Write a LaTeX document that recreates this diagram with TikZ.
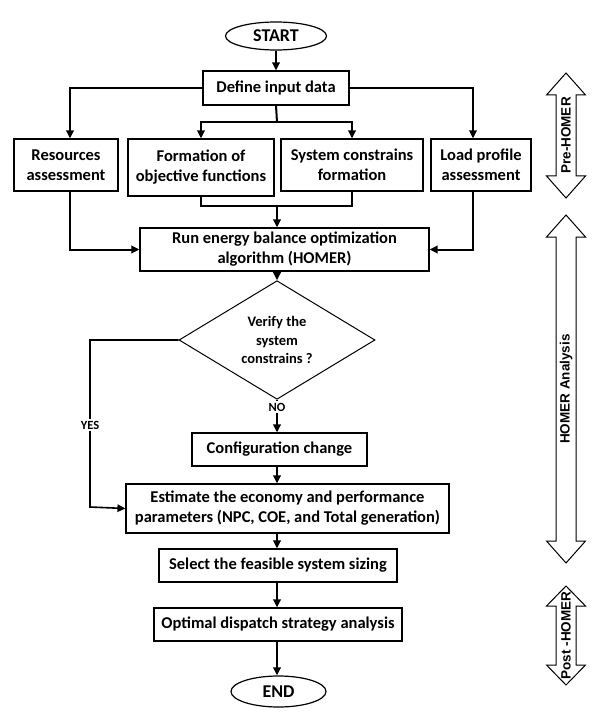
\documentclass[tikz,border=0pt]{standalone}
\usepackage{fontspec}
\setmainfont{Carlito}
\newfontfamily\sidefont{Liberation Sans}
\usetikzlibrary{arrows.meta,shapes.geometric,calc}
\tikzset{
  boxnode/.style={draw, line width=1.2pt, fill=white, align=center, inner sep=0pt,
    font=\fontsize{16.5}{20}\selectfont\bfseries},
  termnode/.style={ellipse, draw, line width=1.2pt, inner sep=0pt,
    font=\fontsize{18}{20}\selectfont\bfseries},
  decnode/.style={diamond, draw, line width=1pt, inner sep=0pt, align=center,
    font=\fontsize{14.5}{18.5}\selectfont\bfseries},
  conn/.style={line width=2pt},
  arr/.style={line width=2pt, -{Triangle[length=8pt,width=7.5pt]}},
  thinarr/.style={line width=1.6pt, -{Triangle[length=8pt,width=7.5pt]}},
  lbl/.style={fill=white, inner sep=1.5pt, font=\fontsize{12.5}{14}\selectfont\bfseries},
  phase/.style={line width=1pt, fill=white},
  phaselbl/.style={rotate=90, inner sep=0pt, font=\sidefont\fontsize{13.5}{15}\selectfont\bfseries}
}
\begin{document}
\begin{tikzpicture}[x=1pt,y=-1pt]
\useasboundingbox (0,0) rectangle (598,727);

% nodes
\node[termnode, minimum width=101pt, minimum height=28pt] (start) at (276,36) {START};
\node[boxnode, minimum width=146pt, minimum height=34pt] (define) at (276,88) {Define input data};
\node[boxnode, minimum width=104pt, minimum height=52pt] (res) at (66,165) {Resources\\assessment};
\node[boxnode, minimum width=146pt, minimum height=57pt] (form) at (201,167.5) {Formation of\\objective functions};
\node[boxnode, minimum width=142pt, minimum height=52pt] (sys) at (352,165) {System constrains\\formation};
\node[boxnode, minimum width=100pt, minimum height=52pt] (load) at (481,165) {Load profile\\assessment};
\node[boxnode, minimum width=289pt, minimum height=43pt] (run) at (284.5,249.5) {Run energy balance optimization\\algorithm (HOMER)};
\node[decnode, minimum width=196pt, minimum height=100pt] (dia) at (277,340) {Verify the\\system\\constrains ?};
\node[boxnode, minimum width=175pt, minimum height=33pt] (cfg) at (279.5,449.5) {Configuration change};
\node[boxnode, minimum width=323pt, minimum height=49pt] (est) at (287.5,508.5) {Estimate the economy and performance\\parameters (NPC, COE, and Total generation)};
\node[boxnode, minimum width=238pt, minimum height=33pt] (sel) at (278,565.5) {Select the feasible system sizing};
\node[boxnode, minimum width=248pt, minimum height=33pt] (opt) at (278,624.5) {Optimal dispatch strategy analysis};
\node[termnode, minimum width=95pt, minimum height=31pt] (end) at (278.5,691.5) {END};

% helper coordinates
\coordinate (ax) at (277,0);
\coordinate (bl) at (70,0);
\coordinate (br) at (473,0);
\coordinate (j1) at (277,122);
\coordinate (j2) at (277,206);
\coordinate (yc) at (90,507);

% connectors
\draw[arr] (start.south) -- (define.north);
\draw[arr] (define.west) -| (res.north -| bl);
\draw[arr] (define.east) -| (load.north -| br);
\draw[conn] (define.south) -- (j1);
\draw[arr] (j1) -| (form.north);
\draw[arr] (j1) -| (sys.north);
\draw[conn] (form.south) |- (sys.south |- j2) -- (sys.south);
\draw[arr] (j2) -- (j2 |- run.north);
\draw[arr] (res.south -| bl) |- (run.west);
\draw[arr] (load.south -| br) |- (run.east);
\draw[arr] (run.south -| dia.north) -- (dia.north);
\draw[thinarr] (dia.west) -| (yc) -- (est.west);
\draw[arr] (dia.south) -- (dia.south |- cfg.north);
\draw[arr] (cfg.south -| ax) -- (est.north -| ax);
\draw[arr] (est.north -| ax) ++(0,49) coordinate (e1) -- (e1 |- sel.north);
\draw[arr] (sel.south -| ax) -- (opt.north -| ax);
\draw[arr] (opt.south -| ax) -- (end.north -| ax);

\node[lbl] (yes) at (90,425) {YES};
\node[lbl] (no) at (277,407) {NO};

% phase arrows
\draw[phase] (566,73) -- (585.5,95) -- (576,95) -- (576,176) -- (585.5,176) -- (566,198)
  -- (546.5,176) -- (556,176) -- (556,95) -- (546.5,95) -- cycle;
\node[phaselbl] (pre) at (566,135.5) {Pre-HOMER};
\draw[phase] (566,215) -- (585.5,237) -- (576,237) -- (576,541) -- (585.5,541) -- (566,563)
  -- (546.5,541) -- (556,541) -- (556,237) -- (546.5,237) -- cycle;
\node[phaselbl] (mid) at (566,389) {HOMER Analysis};
\draw[phase] (566,586) -- (585.5,606) -- (576,606) -- (576,665) -- (585.5,665) -- (566,685)
  -- (546.5,665) -- (556,665) -- (556,606) -- (546.5,606) -- cycle;
\node[phaselbl] (post) at (566,635.5) {Post -HOMER};
\end{tikzpicture}
\end{document}
